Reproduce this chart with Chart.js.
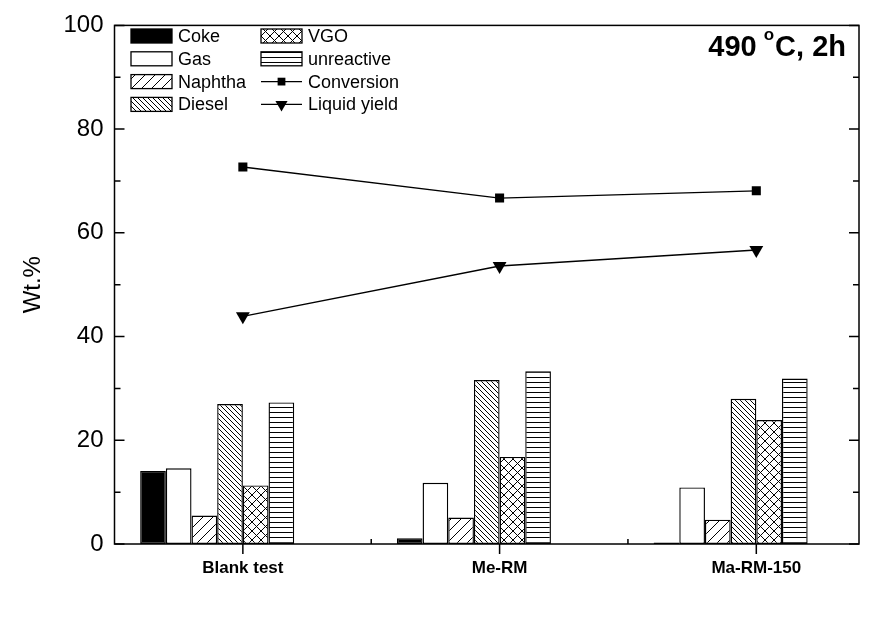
<!DOCTYPE html>
<html><head><meta charset="utf-8">
<script src="https://cdn.jsdelivr.net/npm/chart.js@4/dist/chart.umd.min.js"></script>
<style>html,body{margin:0;padding:0;background:#fff}canvas{display:block}</style>
</head><body>
<canvas id="c" width="878" height="621"></canvas>
<script>
// ---- data ----
const categories = ['Blank test', 'Me-RM', 'Ma-RM-150'];
const positions = [1, 2, 3];
const coke = [14.1, 1.1, 0.3];
const gas = [14.6, 11.8, 10.9];
const naphtha = [5.5, 5.1, 4.7];
const diesel = [27.0, 31.6, 28.0];
const vgo = [11.3, 16.8, 23.9];
const unreactive = [27.3, 33.3, 31.9];
const conversion = [72.7, 66.7, 68.1];
const liquidYield = [43.9, 53.6, 56.7];
const yTickValues = [0, 20, 40, 60, 80, 100];
const seriesNames = ['Coke', 'Gas', 'Naphtha', 'Diesel', 'VGO', 'unreactive', 'Conversion', 'Liquid yield'];
const yTitle = 'Wt.%';
const condText = ['490 ', 'o', 'C, 2h'];

const FONT = '"Liberation Sans", Arial, Helvetica, sans-serif';

function makePattern(kind) {
  const p = kind === 'back' ? 5 : kind === 'horiz' ? 5 : kind === 'cross' ? 9 : 10;
  const c = document.createElement('canvas');
  c.width = p; c.height = p;
  const g = c.getContext('2d');
  g.fillStyle = '#fff'; g.fillRect(0, 0, p, p);
  g.strokeStyle = '#000'; g.lineWidth = 1;
  g.beginPath();
  if (kind === 'fwd' || kind === 'cross') {
    g.moveTo(-1, p + 1); g.lineTo(p + 1, -1);
    g.moveTo(-1, 1); g.lineTo(1, -1);
    g.moveTo(p - 1, p + 1); g.lineTo(p + 1, p - 1);
  }
  if (kind === 'back' || kind === 'cross') {
    g.moveTo(-1, -1); g.lineTo(p + 1, p + 1);
    g.moveTo(p - 1, -1); g.lineTo(p + 1, 1);
    g.moveTo(-1, p - 1); g.lineTo(1, p + 1);
  }
  if (kind === 'horiz') { g.moveTo(0, 2.5); g.lineTo(p, 2.5); }
  g.stroke();
  return g.createPattern(c, 'repeat');
}

const toXY = arr => arr.map((v, i) => ({x: positions[i], y: v}));

function barDs(label, data, fill) {
  return {type: 'bar', label, data: toXY(data), backgroundColor: fill, borderColor: '#000',
    borderWidth: 1.4, order: 1, categoryPercentage: 0.8, barPercentage: 1.0, borderSkipped: false};
}

const datasets = [
  barDs(seriesNames[0], coke, '#000'),
  barDs(seriesNames[1], gas, '#fff'),
  barDs(seriesNames[2], naphtha, makePattern('fwd')),
  barDs(seriesNames[3], diesel, makePattern('back')),
  barDs(seriesNames[4], vgo, makePattern('cross')),
  barDs(seriesNames[5], unreactive, makePattern('horiz')),
  // two empty slots keep the 6 bars offset like the original group layout
  {type: 'bar', label: '', data: [], order: 1, categoryPercentage: 0.8, barPercentage: 1.0, isPad: true},
  {type: 'bar', label: '', data: [], order: 1, categoryPercentage: 0.8, barPercentage: 1.0, isPad: true},
  {type: 'line', label: seriesNames[6], data: toXY(conversion), borderColor: '#000', borderWidth: 1.4,
    pointStyle: 'rect', pointRadius: 6.4, pointBackgroundColor: '#000', pointBorderWidth: 0, order: 0},
  {type: 'line', label: seriesNames[7], data: toXY(liquidYield), borderColor: '#000', borderWidth: 1.4,
    pointStyle: 'triangle', pointRotation: 180, rotation: 180, pointRadius: 8, pointBackgroundColor: '#000', pointBorderWidth: 0, order: 0}
];

const decor = {
  id: 'decor',
  afterDraw(chart) {
    const {ctx, chartArea: a, scales: {x, y}} = chart;
    ctx.save();
    ctx.strokeStyle = '#000';
    ctx.lineWidth = 1.5;
    ctx.strokeRect(a.left, a.top, a.right - a.left, a.bottom - a.top);
    ctx.beginPath();
    for (let i = 0; i < yTickValues.length; i++) {
      const v = yTickValues[i];
      const py = y.getPixelForValue(v);
      ctx.moveTo(a.left, py); ctx.lineTo(a.left + 10, py);
      ctx.moveTo(a.right, py); ctx.lineTo(a.right - 10, py);
      if (i < yTickValues.length - 1) {
        const pm = y.getPixelForValue((v + yTickValues[i + 1]) / 2);
        ctx.moveTo(a.left, pm); ctx.lineTo(a.left + 6, pm);
        ctx.moveTo(a.right, pm); ctx.lineTo(a.right - 6, pm);
      }
    }
    positions.forEach((p, i) => {
      const px = x.getPixelForValue(p);
      ctx.moveTo(px, a.bottom); ctx.lineTo(px, a.bottom + 10);
      if (i < positions.length - 1) {
        const pm = x.getPixelForValue((p + positions[i + 1]) / 2);
        ctx.moveTo(pm, a.bottom); ctx.lineTo(pm, a.bottom - 5);
      }
    });
    ctx.stroke();

    // legend
    const items = chart.data.datasets.filter(d => !d.isPad);
    const colX = [131, 261];
    const textX = [178, 308];
    const rowY0 = 36, rowDy = 22.8, sw = 41, sh = 14;
    ctx.font = '18px ' + FONT;
    ctx.textBaseline = 'middle';
    ctx.textAlign = 'left';
    items.forEach((d, i) => {
      const col = Math.floor(i / 4), row = i % 4;
      const cy = rowY0 + row * rowDy;
      const x0 = colX[col];
      ctx.lineWidth = 1.3;
      ctx.strokeStyle = '#000';
      if (d.type === 'bar') {
        ctx.fillStyle = d.backgroundColor;
        ctx.fillRect(x0, cy - sh / 2, sw, sh);
        ctx.strokeRect(x0, cy - sh / 2, sw, sh);
      } else {
        ctx.beginPath();
        ctx.moveTo(x0, cy); ctx.lineTo(x0 + sw, cy);
        ctx.stroke();
        ctx.fillStyle = '#000';
        Chart.helpers.drawPoint(ctx, {pointStyle: d.pointStyle, radius: d.pointStyle === 'rect' ? 5.5 : 7,
          rotation: d.pointStyle === 'triangle' ? 180 : 0, borderWidth: 0}, x0 + sw / 2, cy);
      }
      ctx.fillStyle = '#000';
      ctx.fillText(d.label, textX[col], cy + 1);
    });

    // condition label
    const big = 'bold 29px ' + FONT, small = 'bold 17px ' + FONT;
    ctx.font = big; const w1 = ctx.measureText(condText[0]).width, w3 = ctx.measureText(condText[2]).width;
    ctx.font = small; const w2 = ctx.measureText(condText[1]).width;
    const right = 846, base = 56;
    let sx = right - (w1 + w2 + w3);
    ctx.textBaseline = 'alphabetic';
    ctx.font = big; ctx.fillText(condText[0], sx, base); sx += w1;
    ctx.font = small; ctx.fillText(condText[1], sx - 1, base - 16); sx += w2;
    ctx.font = big; ctx.fillText(condText[2], sx, base);
    ctx.restore();
  }
};

new Chart(document.getElementById('c'), {
  type: 'bar',
  data: {datasets},
  options: {
    responsive: false,
    devicePixelRatio: 1,
    animation: false,
    layout: {padding: {left: 0, right: 19, top: 19, bottom: 0}},
    plugins: {legend: {display: false}, tooltip: {enabled: false}},
    scales: {
      x: {
        type: 'linear', min: 0.5, max: 3.4, offset: false,
        grid: {display: false, drawTicks: false},
        border: {display: false},
        ticks: {
          stepSize: 1, includeBounds: false, autoSkip: false, maxRotation: 0, padding: 14,
          color: '#000', font: {family: FONT, size: 17, weight: 'bold'},
          callback: v => { const i = positions.indexOf(v); return i >= 0 ? categories[i] : ''; }
        },
        afterFit: s => { s.height = 77; }
      },
      y: {
        min: 0, max: 100,
        grid: {display: false, drawTicks: false},
        border: {display: false},
        ticks: {stepSize: 20, padding: 11, color: '#000', font: {family: FONT, size: 24}},
        title: {display: true, text: yTitle, color: '#000', font: {family: FONT, size: 24}, padding: {top: 19, bottom: 0}},
        afterFit: s => { s.width = 114.5; }
      }
    }
  },
  plugins: [decor]
});
</script>
</body></html>
